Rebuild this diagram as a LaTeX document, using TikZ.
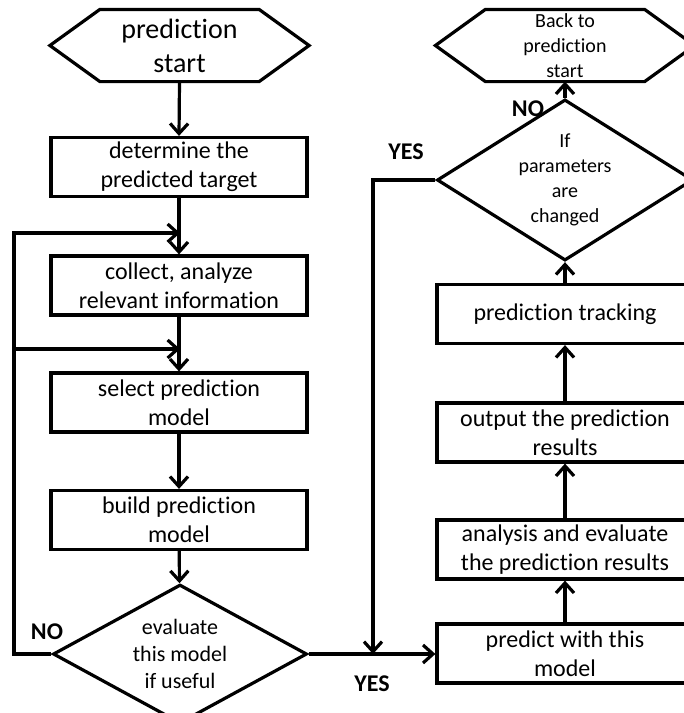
\documentclass[tikz,border=0pt]{standalone}
\usepackage{fontspec}
\setmainfont{Carlito}[Ligatures=NoCommon]
\usetikzlibrary{arrows.meta,positioning,shapes.geometric}

\begin{document}
\begin{tikzpicture}[x=0.5pt,y=-0.5pt,line width=1.6pt,>={Straight Barb[length=5pt,width=9pt]},
  stepbox/.style={draw,rectangle,minimum width=128pt,minimum height=29.5pt,inner sep=0pt,align=center,font=\fontsize{12}{14.5}\selectfont},
  hexbox/.style={rectangle,inner sep=0pt,minimum width=128pt,minimum height=34.5pt,align=center},
  decide/.style={draw,diamond,inner sep=-3pt,align=center},
  answer/.style={font=\bfseries\fontsize{12}{14}\selectfont}]
\clip (0,0) rectangle (684,713);
% left column
\node[hexbox,font=\fontsize{14}{17}\selectfont] (start) at (179.5,45.5) {prediction\\start};
\node[stepbox] (target) at (179,167) {determine the\\predicted target};
\node[stepbox] (collect) at (179,285.5) {collect, analyze\\relevant information};
\node[stepbox] (select) at (179,402.5) {select prediction\\model};
\node[stepbox] (build) at (179,520) {build prediction\\model};
\node[decide,minimum width=127pt,minimum height=58pt,font=\fontsize{11}{13.3}\selectfont] (useful) at (180,654) {evaluate\\this model\\if useful};
% right column
\node[stepbox] (predict) at (565,653.5) {predict with this\\model};
\node[stepbox] (analyse) at (565,549.5) {analysis and evaluate\\the prediction results};
\node[stepbox] (output) at (565,432.5) {output the prediction\\results};
\node[stepbox] (track) at (565,314) {prediction tracking};
\node[decide,minimum width=128pt,minimum height=65pt,font=\fontsize{10}{12.5}\selectfont] (changed) at (565,180) {If\\parameters\\are\\changed};
\node[hexbox,font=\fontsize{10}{12.5}\selectfont] (back) at (565,45.5) {Back to\\prediction\\start};
\foreach \h in {start,back}
  \draw (\h.west) -- ([xshift=25pt]\h.north west) -- ([xshift=-25pt]\h.north east) -- (\h.east)
    -- ([xshift=-25pt]\h.south east) -- ([xshift=25pt]\h.south west) -- cycle;
% answers
\node[answer] (no1) at (47,632) {NO};
\node[answer] (yes1) at (372,684) {YES};
\node[answer] (yes2) at (406,152) {YES};
\node[answer] (no2) at (528,109) {NO};
% joins
\coordinate (loop1) at (180,233);
\coordinate (loop2) at (180,349);
\coordinate (corner) at (14,233);
\coordinate (join) at (373,654);
% main flow
\draw[->] (start.south) -- (target.north);
\draw[->] (target) -- (collect);
\draw[->] (collect) -- (select);
\draw[->] (select) -- (build);
\draw[->] (build) -- (useful);
\draw[->] (useful.east) -- (useful.east -| predict.west);
\draw[->] (predict) -- (analyse);
\draw[->] (analyse) -- (output);
\draw[->] (output) -- (track);
\draw[->] (track) -- (changed);
\draw[->] (changed) -- (back.south);
% loops back
\draw[->] (useful.west) -| (corner) -- (loop1);
\draw[->] (corner |- loop2) -- (loop2);
\draw[->] (changed.west) -| (join);
\end{tikzpicture}
\end{document}
